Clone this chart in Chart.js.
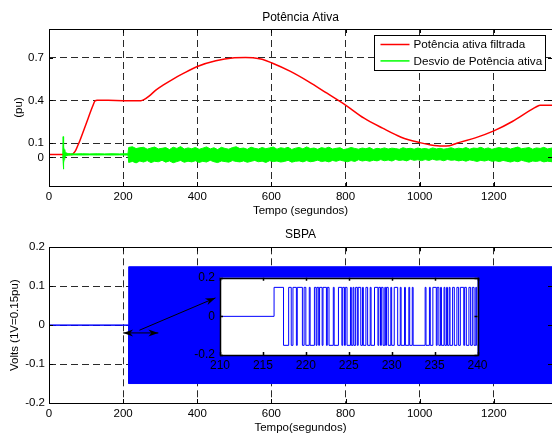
<!DOCTYPE html>
<html>
<head>
<meta charset="utf-8">
<title>Potência Ativa / SBPA</title>
<script src="https://cdn.jsdelivr.net/npm/chart.js@4.4.1/dist/chart.umd.min.js"></script>
<style>
  html, body { margin: 0; padding: 0; background: #fff; }
  #wrap { position: relative; width: 552px; height: 433px; overflow: hidden; }
  #wrap canvas { position: absolute; }
</style>
</head>
<body>
<div id="wrap">
  <canvas id="topChart" width="552" height="220" style="left:0;top:0"></canvas>
  <canvas id="sbpaChart" width="552" height="213" style="left:0;top:220px"></canvas>
  <canvas id="zoomChart" width="300" height="105" style="left:190px;top:270px"></canvas>
</div>
<script>
// ---- dados ----
const seriesNames = ['Potência ativa filtrada', 'Desvio de Potência ativa'];
const timeTicks = [0, 200, 400, 600, 800, 1000, 1200];
const puTicks = [0, 0.1, 0.4, 0.7];
const voltTicks = [-0.2, -0.1, 0, 0.1, 0.2];
const zoomTimeTicks = [210, 215, 220, 225, 230, 235, 240];
const zoomVoltTicks = [-0.2, 0, 0.2];

// potência ativa filtrada (pu)
const redT = [0, 60, 64, 68, 72, 78, 84, 100, 118, 124, 130, 160, 200, 248, 256, 270, 290, 310, 336, 360, 400,
  450, 500, 530, 550, 575, 600, 650, 700, 750, 800, 850, 900, 950, 1000, 1030, 1060, 1080, 1100, 1150, 1200,
  1250, 1300, 1315, 1325, 1357];
const redP = [0.02, 0.02, 0.024, 0.035, 0.05, 0.085, 0.123, 0.235, 0.36, 0.395, 0.4, 0.4, 0.398, 0.398,
  0.405, 0.43, 0.475, 0.51, 0.551, 0.585, 0.637, 0.677, 0.698, 0.701, 0.699, 0.688, 0.664, 0.605, 0.532,
  0.45, 0.367, 0.275, 0.205, 0.142, 0.104, 0.088, 0.08, 0.082, 0.1, 0.137, 0.186, 0.252, 0.333, 0.355,
  0.366, 0.366];

// desvio de potência ativa: envelope superior / inferior (pu)
const greenT = [37, 38.2, 38.7, 39.3, 40, 41, 42.5, 44, 46, 49, 53, 58, 70, 90, 110, 130, 150, 170, 190, 205, 213,
  215, 225, 235, 245, 255, 265, 275, 285, 295, 305,
  315, 325, 335, 345, 355, 365, 375, 385, 395, 405,
  415, 425, 435, 445, 455, 465, 475, 485, 495, 505,
  515, 525, 535, 545, 555, 565, 575, 585, 595, 605,
  615, 625, 635, 645, 655, 665, 675, 685, 695, 705,
  715, 725, 735, 745, 755, 765, 775, 785, 795, 805,
  815, 825, 835, 845, 855, 865, 875, 885, 895, 905,
  915, 925, 935, 945, 955, 965, 975, 985, 995, 1005,
  1015, 1025, 1035, 1045, 1055, 1065, 1075, 1085, 1095, 1105,
  1115, 1125, 1135, 1145, 1155, 1165, 1175, 1185, 1195, 1205,
  1215, 1225, 1235, 1245, 1255, 1265, 1275, 1285, 1295, 1305,
  1315, 1325, 1335, 1345, 1357];
const greenUp = [0.022, 0.146, 0.13, 0.1, 0.075, 0.055, 0.045, 0.038, 0.033, 0.029, 0.027, 0.026, 0.025, 0.026,
  0.025, 0.026, 0.025, 0.026, 0.025, 0.026, 0.026,
  0.07, 0.075, 0.062, 0.068, 0.071, 0.058, 0.066, 0.073, 0.06, 0.064,
  0.069, 0.055, 0.072, 0.063, 0.076, 0.059, 0.067, 0.061, 0.07, 0.057,
  0.065, 0.074, 0.06, 0.068, 0.055, 0.071, 0.063, 0.058, 0.069, 0.075,
  0.062, 0.066, 0.057, 0.072, 0.064, 0.059, 0.07, 0.061, 0.067, 0.073,
  0.058, 0.068, 0.063, 0.071, 0.056, 0.065, 0.07, 0.06, 0.074, 0.062,
  0.066, 0.057, 0.069, 0.063, 0.072, 0.059, 0.064, 0.068, 0.055, 0.061,
  0.07, 0.063, 0.058, 0.066, 0.061, 0.069, 0.056, 0.064, 0.06, 0.067,
  0.059, 0.065, 0.062, 0.057, 0.068, 0.061, 0.064, 0.058, 0.066, 0.06,
  0.063, 0.057, 0.067, 0.06, 0.064, 0.058, 0.062, 0.068, 0.059, 0.065,
  0.061, 0.069, 0.058, 0.066, 0.063, 0.071, 0.06, 0.067, 0.057, 0.064,
  0.07, 0.062, 0.068, 0.059, 0.066, 0.073, 0.061, 0.065, 0.069, 0.058,
  0.067, 0.063, 0.071, 0.06, 0.066];
const greenLo = [0.018, -0.03, -0.082, -0.06, -0.035, -0.015, -0.002, 0.006, 0.011, 0.014, 0.016, 0.017, 0.018,
  0.017, 0.018, 0.017, 0.018, 0.017, 0.018, 0.017, 0.017,
  -0.035, -0.028, -0.038, -0.025, -0.032, -0.022, -0.036, -0.027, -0.03, -0.02,
  -0.033, -0.024, -0.037, -0.029, -0.021, -0.034, -0.026, -0.031, -0.023, -0.035,
  -0.027, -0.032, -0.02, -0.03, -0.036, -0.025, -0.029, -0.033, -0.022, -0.028,
  -0.031, -0.024, -0.034, -0.027, -0.021, -0.03, -0.026, -0.035, -0.023, -0.029,
  -0.025, -0.032, -0.028, -0.02, -0.033, -0.027, -0.024, -0.031, -0.022, -0.03,
  -0.026, -0.019, -0.029, -0.024, -0.031, -0.021, -0.027, -0.018, -0.025, -0.03,
  -0.022, -0.028, -0.016, -0.025, -0.02, -0.027, -0.019, -0.024, -0.015, -0.023,
  -0.018, -0.025, -0.014, -0.021, -0.017, -0.024, -0.013, -0.02, -0.016, -0.022,
  -0.015, -0.021, -0.012, -0.019, -0.016, -0.023, -0.014, -0.02, -0.017, -0.024,
  -0.019, -0.026, -0.017, -0.022, -0.028, -0.02, -0.025, -0.018, -0.027, -0.023,
  -0.029, -0.021, -0.026, -0.032, -0.024, -0.03, -0.02, -0.027, -0.033, -0.025,
  -0.028, -0.022, -0.031, -0.026, -0.03];

// SBPA (volts): a faixa densa vista como envelope
const sbpaT = [0, 215, 215, 1357];
const sbpaUp = [0, 0, 0.15, 0.15];
const sbpaLo = [0, 0, -0.15, -0.15];

// detalhe 210-240 s: instantes de comutação e nível
const prbsT = [210, 216.3, 217.4, 218.0, 218.3, 218.5, 218.9, 219.0, 219.6, 219.8, 220.0, 220.4, 220.5, 221.0,
  221.2, 221.3, 221.5, 221.6, 221.9, 222.0, 222.4, 222.5, 222.7, 223.2, 223.3, 223.8, 224.2, 224.3, 224.5,
  224.6, 224.8, 225.2, 225.3, 225.5, 225.6, 225.8, 226.0, 226.1, 226.4, 226.6, 226.7, 227.0, 227.2, 227.5,
  227.6, 228.0, 228.4, 228.5, 228.7, 228.8, 229.0, 229.2, 229.3, 229.4, 229.6, 229.9, 230.0, 230.3, 230.7,
  231.0, 231.1, 231.5, 231.6, 232.0, 232.1, 232.4, 232.5, 233.9, 234.0, 234.4, 234.5, 234.8, 235.2, 235.3,
  235.5, 235.7, 235.8, 236.1, 236.2, 236.4, 236.5, 236.7, 236.8, 237.1, 237.3, 237.6, 237.8, 238.0, 238.4,
  238.5, 238.7, 239.0, 239.2, 239.4, 239.6, 239.8, 239.9, 240];
const prbsV = [0, 0.15, -0.15, 0.15, -0.15, 0.15, -0.15, 0.15, -0.15, 0.15, -0.15, 0.15, -0.15, 0.15,
  -0.15, 0.15, -0.15, 0.15, -0.15, 0.15, -0.15, 0.15, -0.15, 0.15, -0.15, 0.15, -0.15, 0.15, -0.15,
  0.15, -0.15, 0.15, -0.15, 0.15, -0.15, 0.15, -0.15, 0.15, -0.15, 0.15, -0.15, 0.15, -0.15, 0.15,
  -0.15, 0.15, -0.15, 0.15, -0.15, 0.15, -0.15, 0.15, -0.15, 0.15, -0.15, 0.15, -0.15, 0.15, -0.15,
  0.15, -0.15, 0.15, -0.15, 0.15, -0.15, 0.15, -0.15, 0.15, -0.15, 0.15, -0.15, 0.15, -0.15, 0.15,
  -0.15, 0.15, -0.15, 0.15, -0.15, 0.15, -0.15, 0.15, -0.15, 0.15, -0.15, 0.15, -0.15, 0.15, -0.15,
  0.15, -0.15, 0.15, -0.15, 0.15, -0.15, 0.15, -0.15, -0.15];

// setas (coordenadas de dados do gráfico SBPA)
const arrowT = [[200, 295], [244, 449]];
const arrowV = [[-0.02, -0.02], [-0.013, 0.07]];
const arrowBoth = [true, false];

// ---- estilo ----
const FONT = '"Liberation Sans", Arial, Helvetica, sans-serif';
const RED = '#ff0000', GREEN = '#00ff00', BLUE = '#0000ff';
const GRID = '#2a2a2a';
const T_MAX = 1357;

Chart.defaults.font.family = FONT;
Chart.defaults.font.size = 11.5;
Chart.defaults.color = '#000';
Chart.defaults.animation = false;
Chart.defaults.elements.point.radius = 0;

const pts = (xs, ys) => xs.map((v, i) => ({ x: v, y: ys[i] }));
const setTicks = arr => s => { s.ticks = arr.map(v => ({ value: v })); };

// caixa de eixos estilo MATLAB com marcas internas
const axesBox = {
  id: 'axesBox',
  beforeDraw(chart, args, opts) {
    if (!opts.fillWhite) return;
    const { ctx, chartArea: a } = chart;
    ctx.save();
    ctx.fillStyle = '#fff';
    ctx.fillRect(a.left, a.top, a.right - a.left, a.bottom - a.top);
    ctx.restore();
  },
  afterDraw(chart, args, opts) {
    const { ctx, chartArea: a, scales: { x, y } } = chart;
    const tl = opts.tick || 4;
    ctx.save();
    ctx.strokeStyle = '#000';
    ctx.lineWidth = opts.width || 1;
    ctx.beginPath();
    x.ticks.forEach(t => {
      const p = Math.round(x.getPixelForValue(t.value)) + 0.5;
      ctx.moveTo(p, a.bottom); ctx.lineTo(p, a.bottom - tl);
      ctx.moveTo(p, a.top); ctx.lineTo(p, a.top + tl);
    });
    y.ticks.forEach(t => {
      const p = Math.round(y.getPixelForValue(t.value)) + 0.5;
      ctx.moveTo(a.left, p); ctx.lineTo(a.left + tl, p);
      ctx.moveTo(a.right, p); ctx.lineTo(a.right - tl, p);
    });
    ctx.stroke();
    ctx.strokeRect(Math.round(a.left) + 0.5, Math.round(a.top) + 0.5,
      Math.round(a.right - a.left), Math.round(a.bottom - a.top));
    ctx.restore();
  }
};

// legenda com moldura dentro da área do gráfico
const boxedLegend = {
  id: 'boxedLegend',
  afterDraw(chart, args, opts) {
    if (!opts.items) return;
    const { ctx, chartArea: a } = chart;
    ctx.save();
    ctx.font = '11.7px ' + FONT;
    const maxW = Math.max(...opts.items.map(it => ctx.measureText(it.text).width));
    const w = Math.round(39 + maxW + 3), h = 35;
    const x = Math.round(a.right - 7 - w) + 0.5, y = Math.round(a.top + 6) + 0.5;
    ctx.fillStyle = '#fff';
    ctx.fillRect(x, y, w, h);
    ctx.strokeStyle = '#000';
    ctx.lineWidth = 1;
    ctx.strokeRect(x, y, w, h);
    opts.items.forEach((it, i) => {
      const cy = y + 9 + i * 16.4;
      ctx.strokeStyle = it.color;
      ctx.lineWidth = 1.5;
      ctx.beginPath(); ctx.moveTo(x + 6, cy); ctx.lineTo(x + 35, cy); ctx.stroke();
      ctx.fillStyle = '#000';
      ctx.textBaseline = 'middle';
      ctx.fillText(it.text, x + 39, cy + 0.5);
    });
    ctx.restore();
  }
};

// setas de indicação do detalhe
function arrowHead(ctx, fx, fy, tx, ty) {
  const ang = Math.atan2(ty - fy, tx - fx), L = 10, W = 3.5;
  const c = Math.cos(ang), s = Math.sin(ang);
  ctx.beginPath();
  ctx.moveTo(tx, ty);
  ctx.lineTo(tx - L * c + W * s, ty - L * s - W * c);
  ctx.lineTo(tx - L * c * 0.7, ty - L * s * 0.7);
  ctx.lineTo(tx - L * c - W * s, ty - L * s + W * c);
  ctx.closePath();
  ctx.fill();
}
const arrows = {
  id: 'arrows',
  afterDatasetsDraw(chart) {
    const { ctx, scales: { x, y } } = chart;
    ctx.save();
    ctx.strokeStyle = '#000';
    ctx.fillStyle = '#000';
    ctx.lineWidth = 1;
    arrowT.forEach((ts, i) => {
      const x1 = x.getPixelForValue(ts[0]), y1 = y.getPixelForValue(arrowV[i][0]);
      const x2 = x.getPixelForValue(ts[1]), y2 = y.getPixelForValue(arrowV[i][1]);
      ctx.beginPath(); ctx.moveTo(x1, y1); ctx.lineTo(x2, y2); ctx.stroke();
      arrowHead(ctx, x1, y1, x2, y2);
      if (arrowBoth[i]) arrowHead(ctx, x2, y2, x1, y1);
    });
    ctx.restore();
  }
};

function timeAxis(label, height, titlePad, titleLH) {
  return {
    type: 'linear', min: 0, max: T_MAX,
    afterBuildTicks: setTicks(timeTicks),
    afterFit: s => { s.height = height; },
    grid: { drawTicks: false, color: GRID, lineWidth: 1 },
    border: { display: false, dash: [7, 4] },
    ticks: { padding: 4, autoSkip: false, maxRotation: 0, callback: v => String(v) },
    title: { display: true, text: label, padding: { top: 0, bottom: titlePad },
             font: { size: 11.5, lineHeight: titleLH } }
  };
}

// ---- Potência Ativa ----
new Chart(document.getElementById('topChart'), {
  type: 'line',
  data: {
    datasets: [
      { label: seriesNames[1], data: pts(greenT, greenUp), borderColor: GREEN, backgroundColor: GREEN,
        borderWidth: 1, fill: '+1' },
      { label: seriesNames[1], data: pts(greenT, greenLo), borderColor: GREEN, borderWidth: 1, fill: false },
      { label: seriesNames[0], data: pts(redT, redP), borderColor: RED, borderWidth: 1.5, fill: false,
        cubicInterpolationMode: 'monotone' }
    ]
  },
  options: {
    responsive: false,
    layout: { padding: 0 },
    scales: {
      x: timeAxis('Tempo (segundos)', 34, 2.2, 1.2),
      y: {
        type: 'linear', min: -0.2, max: 0.9,
        afterBuildTicks: setTicks(puTicks),
        afterFit: s => { s.width = 49; },
        grid: { drawTicks: false, color: GRID, lineWidth: 1 },
        border: { display: false, dash: [7, 4] },
        ticks: { padding: 5, callback: v => String(v) },
        title: { display: true, text: '(pu)', padding: { top: 12.1, bottom: 0 } }
      }
    },
    plugins: {
      legend: { display: false },
      tooltip: { enabled: false },
      title: { display: true, text: 'Potência Ativa', fullSize: false, font: { size: 12, weight: 'normal' },
               color: '#000', padding: { top: 10.8, bottom: 3.8 } },
      axesBox: { width: 1, tick: 4 },
      boxedLegend: { items: [ { text: seriesNames[0], color: RED }, { text: seriesNames[1], color: GREEN } ] }
    }
  },
  plugins: [axesBox, boxedLegend]
});

// ---- SBPA ----
new Chart(document.getElementById('sbpaChart'), {
  type: 'line',
  data: {
    datasets: [
      { label: 'SBPA', data: pts(sbpaT, sbpaUp), borderColor: BLUE, backgroundColor: BLUE, borderWidth: 1, fill: '+1' },
      { label: 'SBPA', data: pts(sbpaT, sbpaLo), borderColor: BLUE, borderWidth: 1, fill: false }
    ]
  },
  options: {
    responsive: false,
    layout: { padding: 0 },
    scales: {
      x: timeAxis('Tempo(segundos)', 30, 0, 0.9),
      y: {
        type: 'linear', min: -0.2, max: 0.2,
        afterBuildTicks: setTicks(voltTicks),
        afterFit: s => { s.width = 49; },
        grid: { drawTicks: false, color: GRID, lineWidth: 1 },
        border: { display: false, dash: [7, 4] },
        ticks: { padding: 4, callback: v => String(v) },
        title: { display: true, text: 'Volts (1V=0.15pu)', padding: { top: 8.1, bottom: 0 } }
      }
    },
    plugins: {
      legend: { display: false },
      tooltip: { enabled: false },
      title: { display: true, text: 'SBPA', fullSize: false, font: { size: 12, weight: 'normal' },
               color: '#000', padding: { top: 7.8, bottom: 5.1 } },
      axesBox: { width: 1, tick: 4 }
    }
  },
  plugins: [axesBox, arrows]
});

// ---- detalhe 210-240 s ----
new Chart(document.getElementById('zoomChart'), {
  type: 'line',
  data: {
    datasets: [
      { label: 'SBPA', data: pts(prbsT, prbsV), borderColor: BLUE, borderWidth: 1, stepped: true, fill: false }
    ]
  },
  options: {
    responsive: false,
    layout: { padding: { top: 7.7, right: 12.5, left: 0, bottom: 0 } },
    scales: {
      x: {
        type: 'linear', min: 210, max: 240,
        afterBuildTicks: setTicks(zoomTimeTicks),
        afterFit: s => { s.height = 20; s.paddingLeft = 0; s.paddingRight = 0; },
        grid: { display: false, drawTicks: false },
        border: { display: false },
        ticks: { padding: 3, autoSkip: false, maxRotation: 0, font: { size: 12 }, callback: v => String(v) }
      },
      y: {
        type: 'linear', min: -0.2, max: 0.2,
        afterBuildTicks: setTicks(zoomVoltTicks),
        afterFit: s => { s.width = 30; s.paddingTop = 0; s.paddingBottom = 0; },
        grid: { display: false, drawTicks: false },
        border: { display: false },
        ticks: { padding: 5, font: { size: 12 }, callback: v => String(v) }
      }
    },
    plugins: {
      legend: { display: false },
      tooltip: { enabled: false },
      axesBox: { width: 1.5, tick: 3, fillWhite: true }
    }
  },
  plugins: [axesBox]
});
</script>
</body>
</html>
